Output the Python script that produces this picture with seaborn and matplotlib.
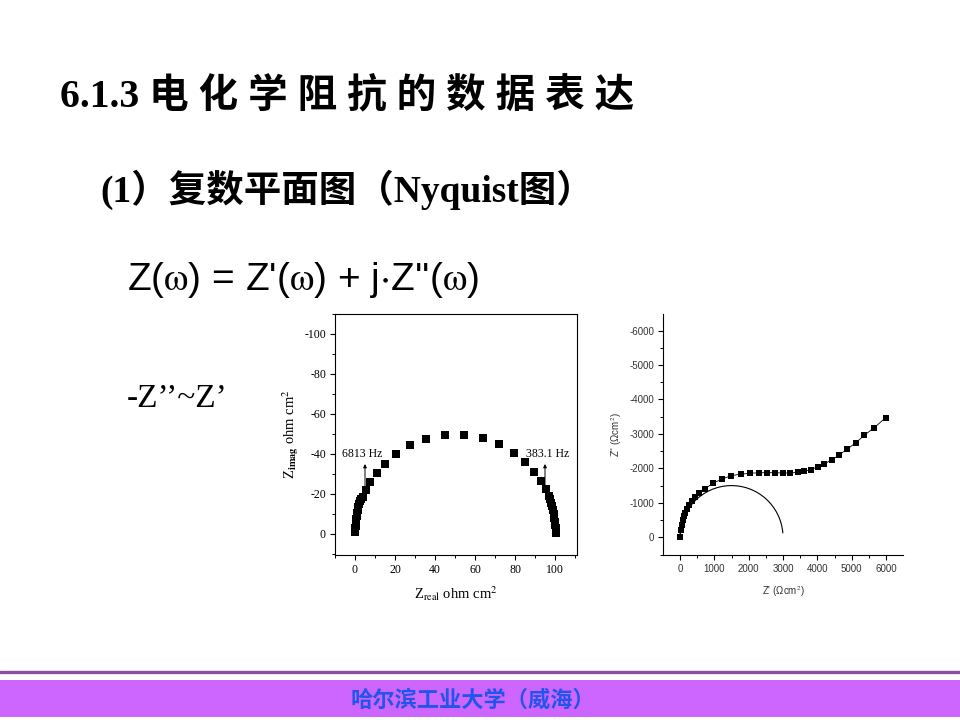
import numpy as np
import pandas as pd
import matplotlib
matplotlib.use("Agg")
import matplotlib.pyplot as plt
from matplotlib.patches import Arc, Rectangle
from matplotlib.lines import Line2D
from matplotlib.ticker import MultipleLocator
import seaborn as sns

# left plot: Nyquist data, ohm cm^2 (imaginary part negative)
z_real_a = [0.0, 0.1, 0.2, 0.3, 0.4, 0.5, 0.7, 0.9, 1.1, 1.4, 1.7, 2.1, 2.6, 3.1, 3.8,
            5.5, 7.5, 10.8, 15.0, 20.5, 27.5, 35.5, 44.8, 54.5, 63.8, 72.2, 79.5,
            85.0, 89.5, 93.0, 95.3, 96.8, 97.5, 98.0, 98.5, 99.0, 99.4, 99.7, 100.0,
            100.2, 100.4, 100.5, 100.5]
z_imag_a = [-1.0, -2.0, -3.0, -4.0, -5.0, -6.0, -7.5, -9.0, -10.5, -12.0, -13.5, -15.0,
            -16.5, -17.5, -18.5, -22.0, -26.2, -30.7, -35.2, -40.0, -44.3, -47.7,
            -49.5, -49.5, -48.2, -45.2, -40.7, -36.0, -31.2, -26.7, -22.5, -19.2,
            -17.5, -15.7, -14.0, -12.0, -10.0, -8.0, -6.0, -4.5, -3.0, -1.5, -0.5]
freq_labels = ["6813 Hz", "383.1 Hz"]
freq_arrow_x = [5, 95]
freq_label_x = [-6.6, 85.3]

# right plot: Nyquist data, ohm cm^2
z_real_b = [0, 20, 50, 80, 117, 155, 195, 262, 360, 438, 564, 729, 953, 1215, 1488,
            1770, 2042, 2314, 2547, 2780, 3014, 3209, 3422, 3617, 3812, 4006, 4200,
            4414, 4629, 4862, 5114, 5368, 5660, 5990]
z_imag_b = [0, -212, -357, -502, -619, -715, -813, -938, -1063, -1162, -1278, -1403,
            -1568, -1685, -1789, -1830, -1859, -1872, -1876, -1872, -1866, -1866,
            -1885, -1915, -1965, -2042, -2129, -2245, -2382, -2556, -2739, -2962,
            -3183, -3474]
fit_center = 1500
fit_radius = 1500

serif = ["Liberation Serif", "Noto Sans CJK SC"]
cjk = ["Noto Sans CJK SC", "DejaVu Sans"]

sns.set_theme(style="ticks")
plt.rcParams.update({
    "mathtext.fontset": "stix",
    "axes.unicode_minus": False,
    "text.color": "black",
    "axes.labelcolor": "black",
    "axes.linewidth": 0.8,
    "xtick.direction": "out",
    "ytick.direction": "out",
    "xtick.major.size": 3.5,
    "ytick.major.size": 3.5,
    "xtick.minor.size": 2,
    "ytick.minor.size": 2,
    "xtick.major.width": 0.8,
    "ytick.major.width": 0.8,
    "xtick.minor.width": 0.7,
    "ytick.minor.width": 0.7,
    "xtick.major.pad": 3,
    "ytick.major.pad": 3,
    "axes.edgecolor": "black",
    "xtick.color": "black",
    "ytick.color": "black",
})
plt.rcParams["font.family"] = serif

fig = plt.figure(figsize=(9.6, 7.2), dpi=100)

# slide texts
fig.text(60 / 960, 1 - 96 / 720, "6.1.3 电 化 学 阻 抗 的 数 据 表 达",
         family=serif, fontsize=28.5, fontweight="bold", va="center")
fig.text(100 / 960, 1 - 190 / 720, "(1）复数平面图（Nyquist图）",
         family=serif, fontsize=27, fontweight="bold", va="center")
fig.text(127 / 960, 1 - 280 / 720,
         r"Z($\mathrm{\omega}$) = Z'($\mathrm{\omega}$) + j$\cdot$Z''($\mathrm{\omega}$)",
         family=["Liberation Sans"], fontsize=28, va="center")
fig.text(127 / 960, 1 - 407 / 720, "-Z’’~Z’", family=serif, fontsize=24, va="baseline")

# left chart
df_a = pd.DataFrame({"zr": z_real_a, "zi": z_imag_a})
ax1 = fig.add_axes([335 / 960, 1 - 555 / 720, 242 / 960, 241 / 720])
sns.scatterplot(data=df_a, x="zr", y="zi", marker="s", s=30, color="black",
                edgecolor="black", linewidth=0, ax=ax1)
ax1.set_xlim(-10, 111)
ax1.set_ylim(10.5, -110)
ax1.xaxis.set_major_locator(MultipleLocator(20))
ax1.xaxis.set_minor_locator(MultipleLocator(10))
ax1.yaxis.set_major_locator(MultipleLocator(20))
ax1.yaxis.set_minor_locator(MultipleLocator(10))
ax1.tick_params(top=False, right=False, which="both", labelsize=8.5)
for lab in ax1.get_xticklabels() + ax1.get_yticklabels():
    lab.set_family(serif)
ax1.set_xlabel(r"Z$_{\rm real}$ ohm cm$^2$", fontsize=10.5, labelpad=6)
ax1.set_ylabel(r"Z$_{\mathbf{imag}}$ ohm cm$^2$", fontsize=10.5, labelpad=2)
for ax_x, lx, txt in zip(freq_arrow_x, freq_label_x, freq_labels):
    ax1.annotate("", xy=(ax_x, -35), xytext=(ax_x, -22),
                 arrowprops=dict(arrowstyle="-|>", color="black", lw=0.7,
                                 mutation_scale=5, shrinkA=0, shrinkB=0))
    ax1.text(lx, -38.6, txt, fontsize=8.5, va="baseline", family=serif)

# right chart
df_b = pd.DataFrame({"zr": z_real_b, "zi": z_imag_b})
ax2 = fig.add_axes([663 / 960, 1 - 555 / 720, 240 / 960, 241 / 720])
sns.lineplot(data=df_b, x="zr", y="zi", sort=False, estimator=None, color="black",
             lw=0.6, marker="s", markersize=4.8, markeredgewidth=0, ax=ax2)
ax2.add_patch(Arc((fit_center, 0), 2 * fit_radius, 2 * fit_radius, theta1=180,
                  theta2=355.5, color="black", lw=0.8))
ax2.set_xlim(-495, 6494)
ax2.set_ylim(514, -6480)
ax2.xaxis.set_major_locator(MultipleLocator(1000))
ax2.xaxis.set_minor_locator(MultipleLocator(500))
ax2.yaxis.set_major_locator(MultipleLocator(1000))
ax2.yaxis.set_minor_locator(MultipleLocator(500))
ax2.spines["top"].set_visible(False)
ax2.spines["right"].set_visible(False)
ax2.tick_params(which="both", labelsize=7)
for lab in ax2.get_xticklabels() + ax2.get_yticklabels():
    lab.set_family(["Liberation Sans"])
    lab.set_color("#333333")
ax2.set_xlabel("Z' (Ωcm$^2$)", fontsize=7, family=["Liberation Sans"],
               color="#333333", labelpad=7)
ax2.set_ylabel("Z'' (Ωcm$^2$)", fontsize=7, family=["Liberation Sans"],
               color="#333333", labelpad=4)

# footer
fig.add_artist(Line2D([0, 1], [1 - 672 / 720, 1 - 672 / 720], color="#8B4BA8", lw=2.4))
fig.add_artist(Rectangle((0, 1 - 717 / 720), 1, 37 / 720, color="#CC66FF", lw=0))
fig.text(473 / 960, 1 - 700 / 720, "哈尔滨工业大学（威海）", family=cjk, fontsize=16,
         fontweight="bold", color="#2255EE", ha="center", va="center")

fig.savefig("out.png", dpi=100)
